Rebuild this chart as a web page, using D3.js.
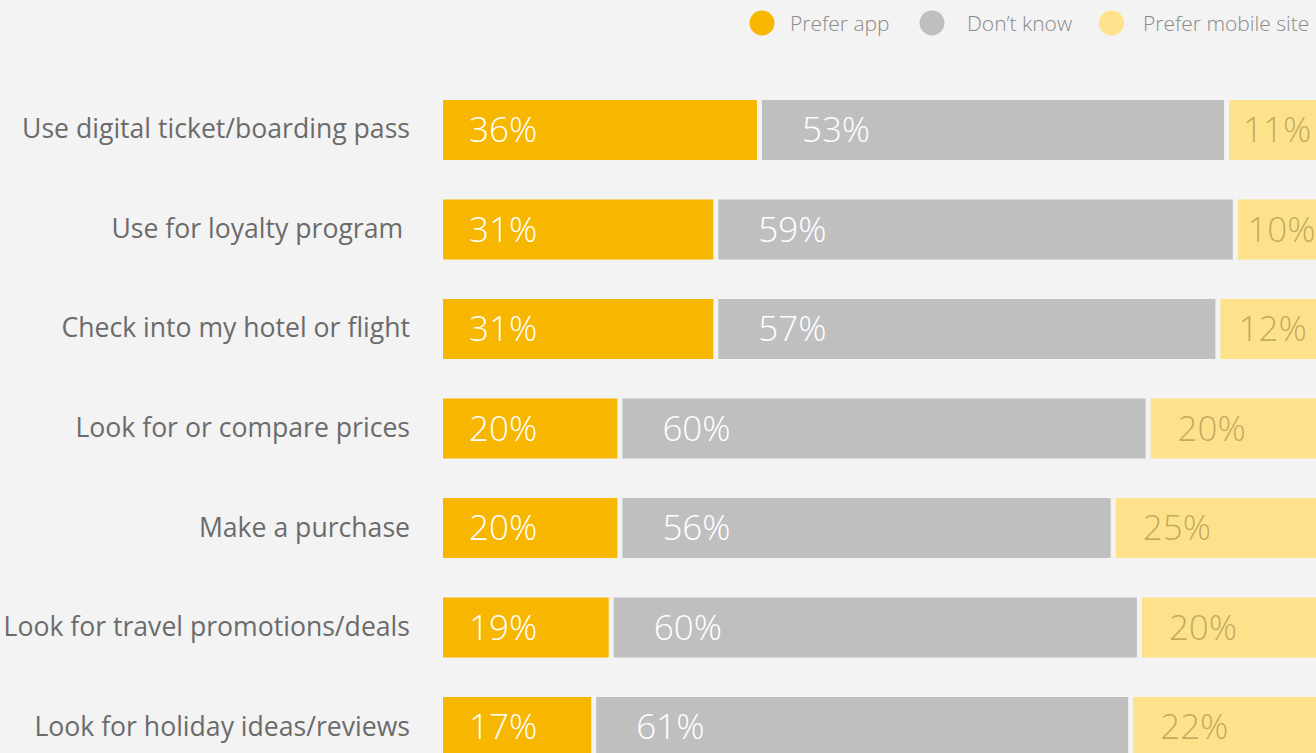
<!DOCTYPE html>
<html>
<head>
<meta charset="utf-8">
<script src="https://cdn.jsdelivr.net/npm/d3@7"></script>
<style>
  html, body { margin: 0; padding: 0; background: #f3f3f3; overflow: hidden; }
  svg { display: block; font-family: "Open Sans", sans-serif; }
</style>
</head>
<body>
<svg id="chart" width="1316" height="753"></svg>
<script>
// Survey answers: app vs mobile site preference per travel activity
const categories = [
  "Use digital ticket/boarding pass",
  "Use for loyalty program ",
  "Check into my hotel or flight",
  "Look for or compare prices",
  "Make a purchase",
  "Look for travel promotions/deals",
  "Look for holiday ideas/reviews"
];
const seriesNames = ["Prefer app", "Don\u2019t know", "Prefer mobile site"];
const preferApp   = [36, 31, 31, 20, 20, 19, 17];
const dontKnow    = [53, 59, 57, 60, 56, 60, 61];
const preferSite  = [11, 10, 12, 20, 25, 20, 22];

const fills      = ["#f7b600", "#bfbfbf", "#fde18b"];
const labelFills = ["#ffffff", "#ffffff", "rgba(120,100,40,0.45)"];
const labelPad   = [26, 40, 27];

const svg = d3.select("#chart");
const W = 1316, H = 753;
svg.append("rect").attr("width", W).attr("height", H).attr("fill", "#f3f3f3");

const x = d3.scaleLinear().domain([0, 100]).range([443, 443 + 872]);
const y = d3.scaleBand().domain(categories).range([100, 757]).paddingInner(0.397).paddingOuter(0);
const gap = 5;

const rows = categories.map((c, i) => {
  const vals = [preferApp[i], dontKnow[i], preferSite[i]];
  let cum = 0;
  return { cat: c, segs: vals.map((v, k) => {
    const s = { k, v, start: cum };
    cum += v;
    return s;
  })};
});

// Category labels
svg.append("g").selectAll("text")
  .data(categories)
  .join("text")
  .attr("x", 410)
  .attr("y", d => y(d) + y.bandwidth() / 2 + 8.5)
  .attr("text-anchor", "end")
  .attr("font-size", 26.6)
  .attr("fill", "#6b6b6b")
  .style("white-space", "pre")
  .text(d => d);

// Stacked bars
const rowG = svg.append("g").selectAll("g")
  .data(rows)
  .join("g")
  .attr("transform", d => `translate(0,${y(d.cat)})`);

const seg = rowG.selectAll("g")
  .data(d => d.segs)
  .join("g");

seg.append("rect")
  .attr("x", d => x(d.start) + d.k * gap)
  .attr("y", 0)
  .attr("width", d => x(d.v) - x(0))
  .attr("height", y.bandwidth())
  .attr("fill", d => fills[d.k]);

seg.append("text")
  .attr("y", y.bandwidth() / 2 + 12.5)
  .attr("font-size", 35)
  .attr("font-weight", 300)
  .attr("fill", d => labelFills[d.k])
  .text(d => d.v + "%")
  .attr("x", function(d) {
    const w = x(d.v) - x(0);
    const tw = this.getComputedTextLength();
    const off = Math.min(labelPad[d.k], (w - tw) / 2);
    return x(d.start) + d.k * gap + off;
  });

// Legend
const legendDotX  = [762, 932, 1111.5];
const legendTextX = [790, 967, 1143];
const leg = svg.append("g").selectAll("g")
  .data(seriesNames)
  .join("g");
leg.append("circle")
  .attr("cx", (d, i) => legendDotX[i])
  .attr("cy", 23)
  .attr("r", 12.5)
  .attr("fill", (d, i) => fills[i]);
leg.append("text")
  .attr("x", (d, i) => legendTextX[i])
  .attr("y", 30.5)
  .attr("font-size", 21)
  .attr("font-weight", 300)
  .attr("fill", "#8a8a8a")
  .text(d => d);
</script>
</body>
</html>
